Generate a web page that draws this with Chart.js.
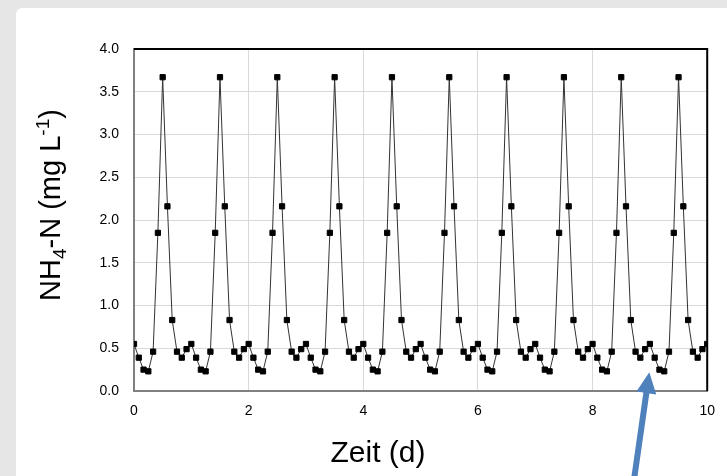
<!DOCTYPE html>
<html lang="de">
<head>
<meta charset="UTF-8">
<title>NH4-N Verlauf</title>
<script src="https://cdn.jsdelivr.net/npm/chart.js"></script>
<style>
  body { margin: 0; background: #e6e6e6; width: 727px; height: 476px; overflow: hidden; position: relative; }
  #panel { position: absolute; left: 16px; top: 8px; width: 740px; height: 490px; background: #fff; border-radius: 6px; }
  #chart { position: absolute; left: 0; top: 0; }
</style>
</head>
<body>
<div id="panel"></div>
<canvas id="chart" width="727" height="476"></canvas>
<script>
// Messzeitpunkte in Stunden (alle 2 h)
const zeitStunden = [
  0, 2, 4, 6, 8, 10, 12, 14, 16, 18, 20, 22,
  24, 26, 28, 30, 32, 34, 36, 38, 40, 42, 44, 46,
  48, 50, 52, 54, 56, 58, 60, 62, 64, 66, 68, 70,
  72, 74, 76, 78, 80, 82, 84, 86, 88, 90, 92, 94,
  96, 98, 100, 102, 104, 106, 108, 110, 112, 114, 116, 118,
  120, 122, 124, 126, 128, 130, 132, 134, 136, 138, 140, 142,
  144, 146, 148, 150, 152, 154, 156, 158, 160, 162, 164, 166,
  168, 170, 172, 174, 176, 178, 180, 182, 184, 186, 188, 190,
  192, 194, 196, 198, 200, 202, 204, 206, 208, 210, 212, 214,
  216, 218, 220, 222, 224, 226, 228, 230, 232, 234, 236, 238,
  240
];

// NH4-N Konzentration (mg/L)
const nh4n = [
  0.55, 0.39, 0.25, 0.23, 0.46, 1.85, 3.67, 2.16, 0.83, 0.46, 0.39, 0.49,
  0.55, 0.39, 0.25, 0.23, 0.46, 1.85, 3.67, 2.16, 0.83, 0.46, 0.39, 0.49,
  0.55, 0.39, 0.25, 0.23, 0.46, 1.85, 3.67, 2.16, 0.83, 0.46, 0.39, 0.49,
  0.55, 0.39, 0.25, 0.23, 0.46, 1.85, 3.67, 2.16, 0.83, 0.46, 0.39, 0.49,
  0.55, 0.39, 0.25, 0.23, 0.46, 1.85, 3.67, 2.16, 0.83, 0.46, 0.39, 0.49,
  0.55, 0.39, 0.25, 0.23, 0.46, 1.85, 3.67, 2.16, 0.83, 0.46, 0.39, 0.49,
  0.55, 0.39, 0.25, 0.23, 0.46, 1.85, 3.67, 2.16, 0.83, 0.46, 0.39, 0.49,
  0.55, 0.39, 0.25, 0.23, 0.46, 1.85, 3.67, 2.16, 0.83, 0.46, 0.39, 0.49,
  0.55, 0.39, 0.25, 0.23, 0.46, 1.85, 3.67, 2.16, 0.83, 0.46, 0.39, 0.49,
  0.55, 0.39, 0.25, 0.23, 0.46, 1.85, 3.67, 2.16, 0.83, 0.46, 0.39, 0.49,
  0.55
];

const xTicks = [0, 2, 4, 6, 8, 10];
const yTicks = [0, 0.5, 1, 1.5, 2, 2.5, 3, 3.5, 4];

const xTitel = 'Zeit (d)';

// Pfeil (Tage / mg L-1)
const pfeilSpitze = { x: 8.99, y: 0.22 };
const pfeilEnde = { x: 8.72, y: -1.05 };

const punkte = zeitStunden.map((h, i) => ({ x: h / 24, y: nh4n[i] }));

const schrift = 'Arial, "Liberation Sans", sans-serif';

// Rahmen oben/rechts, Achsentitel, Pfeil
const extras = {
  id: 'extras',
  afterDraw(chart) {
    const ctx = chart.ctx;
    const a = chart.chartArea;
    const sx = chart.scales.x, sy = chart.scales.y;

    ctx.save();
    ctx.strokeStyle = '#000';
    ctx.lineWidth = 2;
    ctx.beginPath();
    ctx.moveTo(a.left, a.top);
    ctx.lineTo(a.right, a.top);
    ctx.lineTo(a.right, a.bottom);
    ctx.stroke();
    ctx.restore();

    // x-Achsentitel (wie im Original links von der Mitte)
    ctx.save();
    ctx.fillStyle = '#000';
    ctx.font = '30px ' + schrift;
    ctx.textAlign = 'center';
    ctx.textBaseline = 'alphabetic';
    ctx.fillText(xTitel, 378, 462);
    ctx.restore();

    // y-Achsentitel mit Index / Exponent
    const teile = [
      { t: 'NH', f: 29, dy: 0 },
      { t: '4', f: 19, dy: 6 },
      { t: '-N (mg L', f: 29, dy: 0 },
      { t: '-1', f: 19, dy: -11 },
      { t: ')', f: 29, dy: 0 }
    ];
    ctx.save();
    ctx.fillStyle = '#000';
    ctx.textBaseline = 'alphabetic';
    let breite = 0;
    teile.forEach(p => { ctx.font = p.f + 'px ' + schrift; p.w = ctx.measureText(p.t).width; breite += p.w; });
    ctx.translate(50, 205);
    ctx.rotate(-Math.PI / 2);
    let x = -breite / 2;
    teile.forEach(p => {
      ctx.font = p.f + 'px ' + schrift;
      ctx.fillText(p.t, x, 10 + p.dy);
      x += p.w;
    });
    ctx.restore();

    // Pfeil
    const tx = sx.getPixelForValue(pfeilSpitze.x), ty = sy.getPixelForValue(pfeilSpitze.y);
    const ex = sx.getPixelForValue(pfeilEnde.x), ey = sy.getPixelForValue(pfeilEnde.y);
    const dx = tx - ex, dy = ty - ey;
    const len = Math.hypot(dx, dy);
    const ux = dx / len, uy = dy / len;
    const nx = -uy, ny = ux;
    const kopf = 21, kopfB = 10, schaft = 3;
    const bx = tx - ux * kopf, by = ty - uy * kopf;
    ctx.save();
    ctx.fillStyle = '#4f81bd';
    ctx.beginPath();
    ctx.moveTo(ex + nx * schaft, ey + ny * schaft);
    ctx.lineTo(bx + nx * schaft, by + ny * schaft);
    ctx.lineTo(bx + nx * kopfB, by + ny * kopfB);
    ctx.lineTo(tx, ty);
    ctx.lineTo(bx - nx * kopfB, by - ny * kopfB);
    ctx.lineTo(bx - nx * schaft, by - ny * schaft);
    ctx.lineTo(ex - nx * schaft, ey - ny * schaft);
    ctx.closePath();
    ctx.fill();
    ctx.restore();
  }
};

new Chart(document.getElementById('chart').getContext('2d'), {
  type: 'line',
  data: {
    datasets: [{
      label: 'NH4-N',
      data: punkte,
      borderColor: '#333',
      borderWidth: 1,
      pointStyle: 'rect',
      pointRadius: 3.7,
      pointBorderWidth: 1,
      pointBackgroundColor: '#000',
      pointBorderColor: '#000',
      tension: 0
    }]
  },
  options: {
    responsive: false,
    animation: false,
    layout: { padding: { left: 0, top: 49, right: 17, bottom: 0 } },
    plugins: { legend: { display: false }, tooltip: { enabled: false } },
    scales: {
      x: {
        type: 'linear',
        min: 0,
        max: 10,
        afterFit(s) { s.height = 85; },
        afterBuildTicks(s) { s.ticks = xTicks.map(v => ({ value: v })); },
        grid: { color: '#d9d9d9', lineWidth: 1, drawTicks: false },
        border: { color: '#808080', width: 2 },
        ticks: { padding: 12, color: '#000', font: { family: schrift, size: 14 }, maxRotation: 0 }
      },
      y: {
        min: 0,
        max: 4,
        afterFit(s) { s.width = 134; },
        afterBuildTicks(s) { s.ticks = yTicks.map(v => ({ value: v })); },
        grid: { color: '#d9d9d9', lineWidth: 1, drawTicks: false },
        border: { color: '#808080', width: 2 },
        ticks: { padding: 15, color: '#000', font: { family: schrift, size: 14 }, callback: v => v.toFixed(1) }
      }
    }
  },
  plugins: [extras]
});
</script>
</body>
</html>
